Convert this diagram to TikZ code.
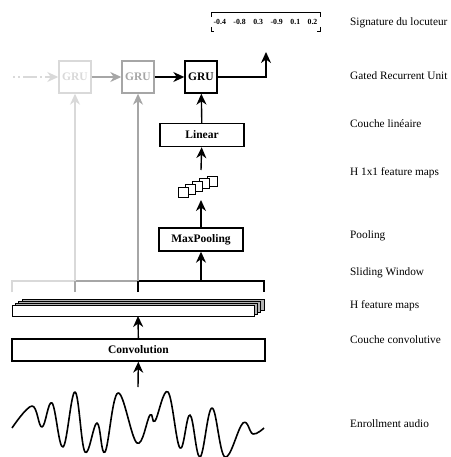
\documentclass[tikz,border=0pt]{standalone}
\usepackage{fontspec}
\setmainfont{Liberation Serif}
\usetikzlibrary{arrows.meta}

\colorlet{faint}{black!15}
\colorlet{mid}{black!35}

\begin{document}
\begin{tikzpicture}[x=1pt,y=-1pt,
  box/.style={draw, line width=1.4pt, fill=white, inner sep=0pt,
    font=\bfseries\fontsize{11.5}{13}\selectfont},
  grubox/.style={box, minimum width=32pt, minimum height=32pt},
  wide/.style={box, minimum width=84pt, minimum height=23pt},
  arr/.style={line width=1.4pt, -{Stealth[length=11pt,width=10pt,inset=3.5pt]}},
  lab/.style={anchor=west, inner sep=0pt, font=\fontsize{11.3}{13}\selectfont},
  layer/.style={draw, line width=0.8pt},
]
\useasboundingbox (0,0) rectangle (450,457);

% recurrent units
\node[grubox, draw=faint, text=faint] (g1) at (75,77) {GRU};
\node[grubox, draw=mid, text=mid] (g2) at (138,77) {GRU};
\node[grubox] (g3) at (201,77) {GRU};
\coordinate (prev) at (13,77);
\coordinate (out) at (266,52);

% speaker signature vector
\draw[line width=0.9pt] (211,17) -- (211,12) -- (320,12) -- (320,17);
\draw[line width=0.9pt] (211,27) -- (211,31) -- (214,31);
\draw[line width=0.9pt] (320,27) -- (320,31) -- (317,31);
\node[inner sep=0pt, font=\bfseries\fontsize{7.8}{9}\selectfont] (sig) at (265.5,22)
  {-0.4\hspace{7.5pt}-0.8\hspace{7.5pt}0.3\hspace{7.5pt}-0.9\hspace{7.5pt}0.1\hspace{7.5pt}0.2};

% dense and pooling layers
\node[wide] (lin) at (202,135) {Linear};
\node[wide] (pool) at (201,239.5) {MaxPooling};
\node[box, minimum width=253pt, minimum height=22pt] (conv) at (138.5,350) {Convolution};

% H 1x1 feature maps
\foreach \i in {4,3,2,1,0}
  \draw[layer, fill=white] (178+7.25*\i,187-2.75*\i) rectangle ++(10,10);
\coordinate (mapsbot) at (201,200);
\coordinate (mapstop) at (201,170);

% H feature maps
\foreach \i/\c in {3/black!30,2/black!30,1/black!30,0/white}
  \draw[layer, fill=\c] (12+3.3*\i,305-2*\i) rectangle (254+3.3*\i,316-2*\i);
\coordinate (fmbot) at (138,316);

% sliding windows
\coordinate (w1) at (75,281);
\coordinate (w2) at (138,281);
\coordinate (w3) at (201,281);
\draw[faint, line width=1.2pt] (12,292) -- (12,281) -- (w1);
\draw[mid, line width=1.2pt] (75,292) -- (w1) -- (w2);
\draw[line width=1.4pt] (138,292) -- (w2) -- (264,281) -- (264,292);

% enrollment waveform
\coordinate (wtop) at (138,387);
\draw[line width=1.6pt, line join=round] plot[smooth, tension=0.65] coordinates {
  (12,428) (32,406) (42,427) (52,403) (63,447) (75,392) (85,452) (97,423)
  (105,452) (118,393) (137,443) (150,415) (155,421) (168,392) (180,448)
  (190,415) (200,457) (212,408) (225,457) (243,423) (253,434) (264,428)};

% connectors
\draw[arr, faint, dash pattern=on 2pt off 3pt on 2pt off 3pt on 12pt off 0pt] (prev) -- (g1);
\draw[arr, mid] (g1) -- (g2);
\draw[arr] (g2) -- (g3);
\draw[arr] (g3.east) -| (out);
\draw[arr, faint] (w1) -- (g1);
\draw[arr, mid] (w2) -- (g2);
\draw[arr] (lin) -- (g3);
\draw[arr] (mapstop) -- (lin);
\draw[arr] (pool) -- (mapsbot);
\draw[arr] (w3) -- (pool);
\draw[arr] (conv) -- (fmbot);
\draw[arr] (wtop) -- (conv);

% layer descriptions
\node[lab] at (350,23) {Signature du locuteur};
\node[lab] at (350,76) {Gated Recurrent Unit};
\node[lab] at (350,124) {Couche linéaire};
\node[lab] at (350,173) {H 1x1 feature maps};
\node[lab] at (350,236) {Pooling};
\node[lab] at (350,273) {Sliding Window};
\node[lab] at (350,306) {H feature maps};
\node[lab] at (350,340) {Couche convolutive};
\node[lab] at (350,424) {Enrollment audio};
\end{tikzpicture}
\end{document}
